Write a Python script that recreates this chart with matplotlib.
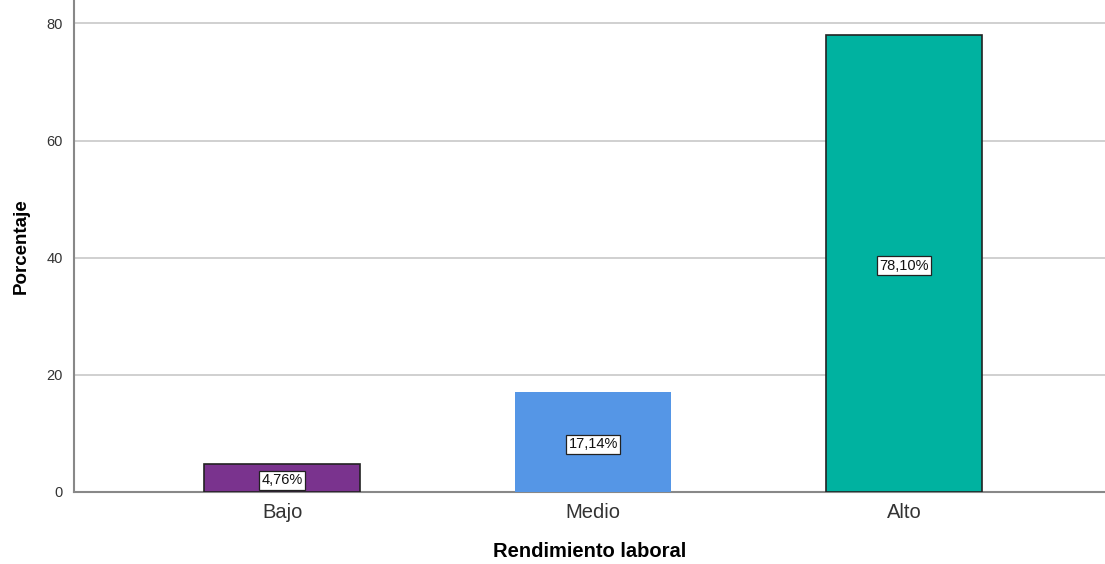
import matplotlib
matplotlib.use("Agg")
import matplotlib.pyplot as plt

categories = ["Bajo", "Medio", "Alto"]
percentages = [4.76, 17.14, 78.10]
bar_colors = ["#7A338E", "#5596E6", "#00B2A0"]
edge_colors = ["#222222", "none", "#222222"]
y_ticks = [0, 20, 40, 60, 80]

plt.rcParams['font.family'] = ['Liberation Sans', 'DejaVu Sans']

fig = plt.figure(figsize=(11.05, 5.64), dpi=100)
ax = fig.add_axes([0.067, 0.1277, 0.933, 0.8723])

x = list(range(len(categories)))
ax.bar(x, percentages, width=0.5, color=bar_colors, edgecolor=edge_colors,
       linewidth=1.2, zorder=3)

for xi, v in zip(x, percentages):
    ax.text(xi, v / 2 - 0.4, f"{v:.2f}%".replace(".", ","), ha="center", va="center",
            fontsize=10.5, color="#111111", zorder=4,
            bbox=dict(boxstyle="square,pad=0.18", facecolor="white",
                      edgecolor="#222222", linewidth=0.9))

ax.set_xlim(-0.669, 2.646)
ax.set_ylim(0, 84)
ax.set_yticks(y_ticks)
ax.set_xticks(x)
ax.set_xticklabels(categories, fontsize=14.5, color="#333333")
ax.tick_params(axis="y", labelsize=10.5, labelcolor="#333333", length=0, pad=8)
ax.tick_params(axis="x", length=0, pad=8)
ax.yaxis.grid(True, color="#c8c8c8", linewidth=1.2, zorder=0)
ax.set_axisbelow(True)

for side in ["top", "right"]:
    ax.spines[side].set_visible(False)
for side in ["left", "bottom"]:
    ax.spines[side].set_color("#888888")
    ax.spines[side].set_linewidth(1.5)

ax.set_xlabel("Rendimiento laboral", fontsize=14.5, fontweight="bold", labelpad=14)
ax.set_ylabel("Porcentaje", fontsize=13.5, fontweight="bold", labelpad=12)

fig.savefig("out.png", dpi=100)
